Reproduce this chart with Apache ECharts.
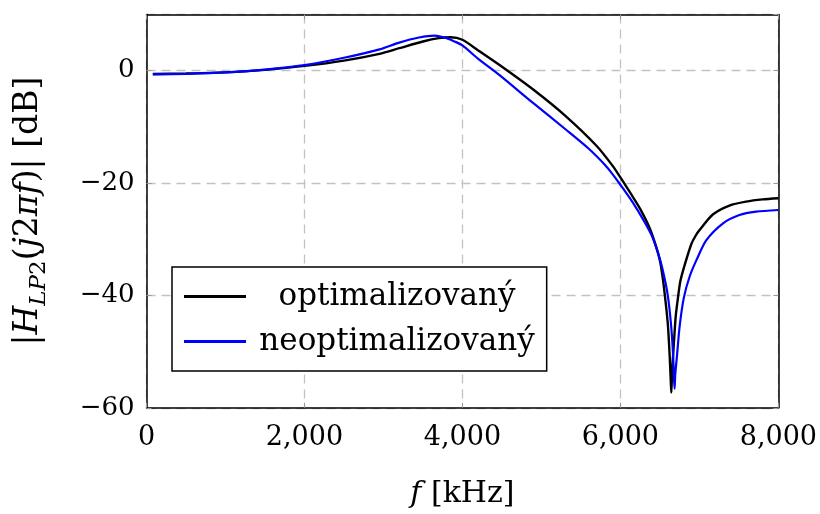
<!DOCTYPE html>
<html>
<head>
<meta charset="utf-8">
<script src="https://cdn.jsdelivr.net/npm/echarts@6/dist/echarts.min.js"></script>
<style>
  html, body { margin: 0; padding: 0; background: #fff; }
  #chart { width: 820px; height: 514px; }
</style>
</head>
<body>
<div id="chart"></div>
<script>
// Magnitude response of the LP2 filter, optimised vs. non-optimised design
const seriesNames = ['optimalizovaný', 'neoptimalizovaný'];

const freqOpt = [80, 500, 1000, 1500, 2000, 2500, 2950, 3200, 3500, 3700, 3850, 4000, 4200, 4470,
  4900, 5300, 5700, 5900, 6000, 6150, 6250, 6370, 6450, 6500, 6530, 6560, 6600, 6625, 6640, 6645,
  6655, 6675, 6700, 6730, 6760, 6820, 6900, 6960, 7000, 7170, 7380, 7590, 7800, 8000];
const gainOpt = [-0.6, -0.5, -0.3, 0.15, 0.85, 1.8, 3.0, 4.0, 5.2, 5.8, 5.95, 5.5, 3.6, 1.0,
  -3.4, -8.0, -13.4, -16.9, -19.0, -22.3, -24.6, -28.0, -31.2, -33.8, -36.3, -39.6, -45.0, -51.0, -56.0, -57.3,
  -53.5, -49.0, -43.8, -40.3, -37.4, -34.3, -30.8, -29.2, -28.4, -25.6, -24.0, -23.3, -22.9, -22.7];

const freqNeo = [80, 500, 1000, 1500, 2000, 2500, 2950, 3200, 3450, 3650, 3800, 3900, 4000, 4200,
  4470, 4890, 5320, 5600, 5800, 5900, 6000, 6154, 6300, 6405, 6510, 6560, 6600, 6640, 6665, 6680, 6686,
  6695, 6715, 6750, 6805, 6880, 6970, 7086, 7296, 7507, 7718, 8000];
const gainNeo = [-0.65, -0.55, -0.3, 0.2, 1.0, 2.3, 3.8, 5.0, 5.9, 6.25, 5.8, 5.2, 4.5, 2.1,
  -0.8, -5.7, -10.6, -13.9, -16.7, -18.4, -20.3, -23.4, -26.8, -29.6, -34.0, -37.0, -40.0, -45.0, -50.0, -55.0, -56.6,
  -54.0, -51.0, -45.5, -40.3, -36.5, -33.5, -30.2, -27.2, -25.7, -25.1, -24.8];

const xTicks = [0, 2000, 4000, 6000, 8000];
const xTickLabels = ['0', '2,000', '4,000', '6,000', '8,000'];
const yTicks = [-60, -40, -20, 0];
const yTickLabels = ['\u221260', '\u221240', '\u221220', '0'];

const pairs = (xs, ys) => xs.map((x, i) => [x, ys[i]]);

const serif = 'DejaVu Serif';
const gridLine = { color: '#c2c2c2', type: [9, 6], width: 1.3 };
const frameLine = { show: true, onZero: false, lineStyle: { color: '#000', width: 1.5 } };
const tickStyle = { show: true, inside: true, length: 5, lineStyle: { color: '#999', width: 1 } };

const chart = echarts.init(document.getElementById('chart'), null, { renderer: 'canvas' });

chart.setOption({
  animation: false,
  backgroundColor: '#fff',
  grid: {
    left: 146.5, right: 41, top: 14.5, bottom: 106.2,
    containLabel: false
  },
  xAxis: [{
    type: 'value', min: 0, max: 8000, interval: 2000,
    name: '{i|f}{n| [kHz]}',
    nameLocation: 'middle', nameGap: 71,
    nameTextStyle: {
      rich: {
        i: { fontFamily: serif, fontStyle: 'italic', fontSize: 30, color: '#000' },
        n: { fontFamily: serif, fontSize: 30, color: '#000' }
      }
    },
    axisLine: frameLine,
    axisTick: tickStyle,
    splitLine: { show: true, lineStyle: gridLine },
    axisLabel: {
      fontFamily: serif, fontSize: 27, color: '#000', margin: 17,
      formatter: v => { const k = xTicks.indexOf(v); return k < 0 ? '' : xTickLabels[k]; }
    }
  }, {
    type: 'value', position: 'top', min: 0, max: 8000, interval: 2000,
    axisLine: frameLine, axisTick: tickStyle,
    axisLabel: { show: false }, splitLine: { show: false }
  }],
  yAxis: [{
    type: 'value', min: -60, max: 10, interval: 20,
    name: '{n||}{i|H}{s|LP}{d|2}{n|(}{i|j}{n|2}{i|\u03c0f}{n|)| [dB]}',
    nameLocation: 'middle', nameGap: 96, nameRotate: 90,
    nameTextStyle: {
      rich: {
        n: { fontFamily: serif, fontSize: 33, lineHeight: 44, color: '#000' },
        i: { fontFamily: serif, fontStyle: 'italic', fontSize: 33, lineHeight: 44, color: '#000' },
        s: { fontFamily: serif, fontStyle: 'italic', fontSize: 23, lineHeight: 31, verticalAlign: 'bottom', color: '#000' },
        d: { fontFamily: serif, fontSize: 23, lineHeight: 31, verticalAlign: 'bottom', color: '#000' }
      }
    },
    axisLine: frameLine,
    axisTick: tickStyle,
    splitLine: { show: true, lineStyle: gridLine },
    axisLabel: {
      fontFamily: serif, fontSize: 26, color: '#000', margin: 12, showMaxLabel: false,
      formatter: v => { const k = yTicks.indexOf(v); return k < 0 ? '' : yTickLabels[k]; }
    }
  }, {
    type: 'value', position: 'right', min: -60, max: 10, interval: 20,
    axisLine: frameLine, axisTick: tickStyle,
    axisLabel: { show: false }, splitLine: { show: false }
  }],
  legend: {
    orient: 'vertical',
    left: 172, top: 267,
    padding: [14, 12, 14, 12],
    itemGap: 14,
    itemWidth: 62, itemHeight: 3,
    icon: 'rect',
    backgroundColor: '#fff',
    borderColor: '#000', borderWidth: 1.5,
    data: seriesNames,
    formatter: name => '{t|' + name + '}',
    textStyle: {
      rich: {
        t: { fontFamily: serif, fontSize: 31, width: 292, align: 'center', color: '#000' }
      }
    }
  },
  series: [{
    name: seriesNames[0], type: 'line', xAxisIndex: 0, yAxisIndex: 0,
    data: pairs(freqOpt, gainOpt),
    symbol: 'none', smooth: 0.25,
    lineStyle: { color: '#000', width: 2.4 }, itemStyle: { color: '#000' }
  }, {
    name: seriesNames[1], type: 'line', xAxisIndex: 0, yAxisIndex: 0,
    data: pairs(freqNeo, gainNeo),
    symbol: 'none', smooth: 0.25,
    lineStyle: { color: '#0000ff', width: 2.2 }, itemStyle: { color: '#0000ff' }
  }]
});
</script>
</body>
</html>
